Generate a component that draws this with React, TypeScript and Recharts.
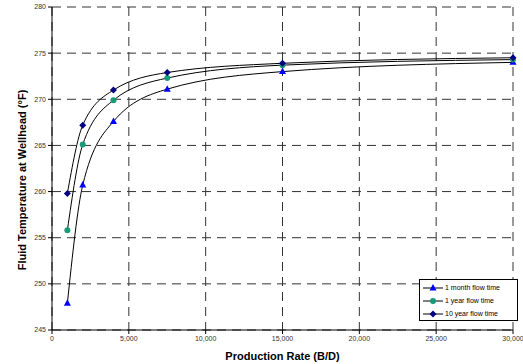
import { LineChart, Line, XAxis, YAxis, CartesianGrid } from "recharts";

const rates = [1000, 2000, 4000, 7500, 15000, 30000];
const oneMonth = [247.9, 260.7, 267.6, 271.1, 273.0, 274.0];
const oneYear = [255.8, 265.1, 269.9, 272.3, 273.7, 274.3];
const tenYear = [259.8, 267.2, 271.0, 272.9, 273.9, 274.5];

const xTicks = [0, 5000, 10000, 15000, 20000, 25000, 30000];
const yTicks = [245, 250, 255, 260, 265, 270, 275, 280];

const data = rates.map((r, i) => ({
  rate: r,
  month: oneMonth[i],
  year: oneYear[i],
  decade: tenYear[i],
}));

const series = [
  { key: "month", name: "1 month flow time", color: "#0000ff", shape: "triangle" },
  { key: "year", name: "1 year flow time", color: "#1b9a78", shape: "circle" },
  { key: "decade", name: "10 year flow time", color: "#000080", shape: "diamond" },
];

const font = "Arial, 'Liberation Sans', sans-serif";

function Marker({ cx, cy, shape, color }: any) {
  if (cx == null || cy == null) return null;
  if (shape === "triangle")
    return <polygon points={`${cx},${cy - 4} ${cx - 3.5},${cy + 2.5} ${cx + 3.5},${cy + 2.5}`} fill={color} />;
  if (shape === "circle") return <circle cx={cx} cy={cy} r={3} fill={color} />;
  return <polygon points={`${cx},${cy - 3.5} ${cx + 3.5},${cy} ${cx},${cy + 3.5} ${cx - 3.5},${cy}`} fill={color} />;
}

function LegendBox() {
  return (
    <div
      style={{
        position: "absolute",
        left: 419,
        top: 279,
        width: 99,
        boxSizing: "border-box",
        border: "1px solid #000",
        background: "#fff",
        padding: "1px 2px 0px 2px",
        fontFamily: font,
        fontSize: 7,
        lineHeight: "13px",
        color: "#000",
      }}
    >
      {series.map((s) => (
        <div key={s.key} style={{ display: "flex", alignItems: "center" }}>
          <svg width={22} height={10} style={{ marginRight: 1 }}>
            <line x1={1} y1={5} x2={21} y2={5} stroke="#000" strokeWidth={1} />
            <Marker cx={11} cy={5} shape={s.shape} color={s.color} />
          </svg>
          <span>{s.name}</span>
        </div>
      ))}
    </div>
  );
}

function YTitle() {
  const x = 22;
  const y = 180;
  return (
    <text
      x={x}
      y={y}
      transform={`rotate(-90 ${x} ${y})`}
      textAnchor="middle"
      dominantBaseline="central"
      style={{ fontSize: 11, fontWeight: "bold", fill: "#000", fontFamily: font }}
    >
      Fluid Temperature at Wellhead (°F)
    </text>
  );
}

export default function App() {
  const tickStyle = { fontSize: 7, fill: "#333", fontFamily: font };
  return (
    <div style={{ position: "absolute", left: 0, top: 0, width: 523, height: 364, background: "#fff" }}>
      <LineChart width={523} height={364} data={data} margin={{ top: 7, right: 10, left: 0, bottom: 0 }}>
        <CartesianGrid stroke="#333" strokeDasharray="9 6" strokeWidth={1} />
        <XAxis
          type="number"
          dataKey="rate"
          domain={[0, 30000]}
          ticks={xTicks}
          tickFormatter={(v: number) => v.toLocaleString("en-US")}
          tick={tickStyle}
          tickSize={4}
          height={34}
          stroke="#000"
          interval={0}
          label={{
            value: "Production Rate (B/D)",
            position: "insideBottom",
            offset: 4,
            style: { fontSize: 11, fontWeight: "bold", fill: "#000", fontFamily: font },
          }}
        />
        <YAxis
          type="number"
          domain={[245, 280]}
          ticks={yTicks}
          tick={tickStyle}
          tickSize={4}
          width={52}
          stroke="#000"
          interval={0}
          label={{ content: () => <YTitle /> }}
        />
        {series.map((s) => (
          <Line
            key={s.key}
            dataKey={s.key}
            name={s.name}
            type="monotone"
            stroke="#000"
            strokeWidth={1}
            dot={(p: any) => <Marker key={`${s.key}-${p.index}`} cx={p.cx} cy={p.cy} shape={s.shape} color={s.color} />}
            activeDot={false}
            isAnimationActive={false}
          />
        ))}
      </LineChart>
      <LegendBox />
    </div>
  );
}
